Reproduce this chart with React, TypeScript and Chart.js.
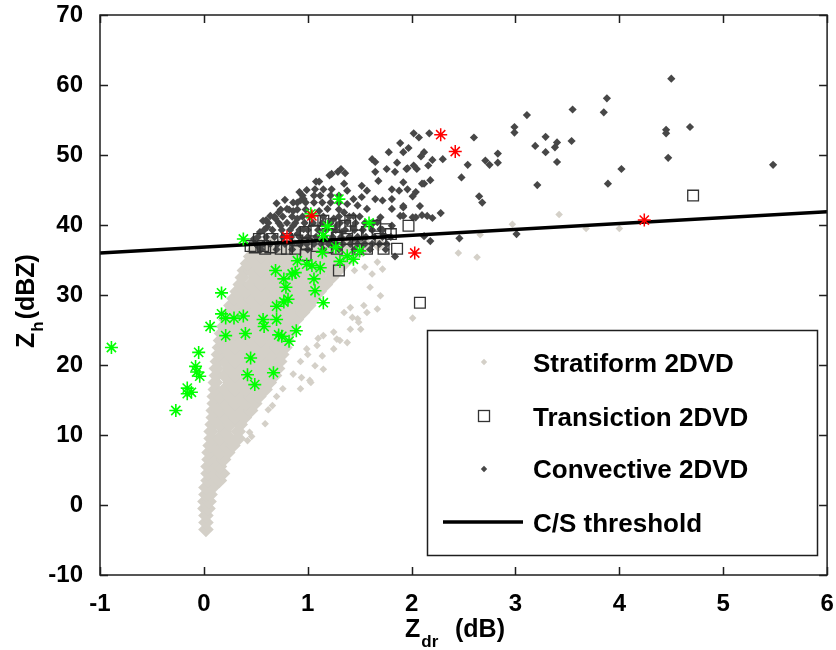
import React, { useEffect, useRef } from 'react';
import { Chart, registerables } from 'chart.js';

Chart.register(...registerables);

const FONT = "'Liberation Sans', Arial, Helvetica, sans-serif";

const xTicks = [-1, 0, 1, 2, 3, 4, 5, 6];
const yTicks = [-10, 0, 10, 20, 30, 40, 50, 60, 70];

const legendLabels = ['Stratiform 2DVD', 'Transiction 2DVD', 'Convective 2DVD', 'C/S threshold'];

// Dense stratiform cloud, read row by row (Zh level, Zdr values)
const stratiformRows: [number, number[]][] = [
  [-3.5, [0.02]],
  [-2.5, [0.02]],
  [-1.5, [0.02]],
  [-0.5, [0.01, 0.04]],
  [0.5, [0.01, 0.05]],
  [1.5, [0.02, 0.06]],
  [2.5, [0.02, 0.08]],
  [3.5, [0.04, 0.1, 0.15]],
  [4.5, [0.04, 0.1, 0.18]],
  [5.5, [0.04, 0.1, 0.15]],
  [6.5, [0.05, 0.12, 0.19]],
  [7.5, [0.05, 0.15, 0.23]],
  [8.5, [0.06, 0.1, 0.2, 0.28]],
  [9.5, [0.07, 0.15, 0.25, 0.33]],
  [10.5, [0.07, 0.2, 0.33]],
  [11.5, [0.08, 0.15, 0.25, 0.35]],
  [12.5, [0.09, 0.2, 0.3, 0.39]],
  [13.5, [0.09, 0.15, 0.25, 0.35, 0.45]],
  [14.5, [0.1, 0.2, 0.3, 0.4, 0.49]],
  [15.5, [0.1, 0.15, 0.25, 0.35, 0.45, 0.53]],
  [16.5, [0.11, 0.2, 0.3, 0.4, 0.5, 0.59]],
  [17.5, [0.11, 0.25, 0.35, 0.45, 0.55, 0.63]],
  [18.5, [0.12, 0.2, 0.3, 0.4, 0.5, 0.6, 0.68]],
  [19.5, [0.12, 0.25, 0.35, 0.45, 0.55, 0.65, 0.71]],
  [20.5, [0.13, 0.2, 0.3, 0.4, 0.5, 0.6, 0.67, 0.73]],
  [21.5, [0.14, 0.25, 0.35, 0.45, 0.55, 0.65, 0.75]],
  [22.5, [0.15, 0.2, 0.3, 0.4, 0.5, 0.6, 0.7, 0.78]],
  [23.5, [0.16, 0.25, 0.35, 0.45, 0.55, 0.65, 0.75, 0.8]],
  [24.5, [0.17, 0.3, 0.4, 0.5, 0.6, 0.7, 0.82]],
  [25.5, [0.19, 0.25, 0.35, 0.45, 0.55, 0.65, 0.75, 0.85]],
  [26.5, [0.21, 0.3, 0.4, 0.5, 0.6, 0.7, 0.8, 0.89]],
  [27.5, [0.24, 0.35, 0.45, 0.55, 0.65, 0.75, 0.85, 0.95]],
  [28.5, [0.26, 0.3, 0.4, 0.5, 0.6, 0.7, 0.8, 0.9, 1.01]],
  [29.5, [0.29, 0.35, 0.45, 0.55, 0.65, 0.75, 0.85, 0.95, 1.06]],
  [30.5, [0.32, 0.4, 0.5, 0.6, 0.7, 0.8, 0.9, 1.0, 1.11]],
  [31.5, [0.35, 0.45, 0.55, 0.65, 0.75, 0.85, 0.95, 1.05, 1.17]],
  [32.5, [0.37, 0.5, 0.6, 0.7, 0.8, 0.9, 1.0, 1.1, 1.23]],
  [33.5, [0.39, 0.45, 0.55, 0.65, 0.75, 0.85, 0.95, 1.05, 1.15, 1.22, 1.29]],
  [34.5, [0.42, 0.5, 0.6, 0.7, 0.8, 0.9, 1.0, 1.1, 1.2, 1.3, 1.35]],
  [35.5, [0.45, 0.55, 0.65, 0.75, 0.85, 0.95, 1.05, 1.15, 1.25, 1.35, 1.43]],
  [36.5, [0.49, 0.6, 0.7, 0.8, 0.9, 1.0, 1.1, 1.2, 1.3, 1.4, 1.53]],
  [37.3, [0.53, 0.65, 0.75, 0.85, 0.95, 1.05, 1.15, 1.25, 1.35, 1.45, 1.55, 1.68]],
];

// Scattered stratiform points outside the dense cloud
const stratiformSparse: [number, number][] = [
  [0.42, 9.2], [0.46, 9.8], [0.44, 10.4], [0.59, 11.6], [0.66, 14.2], [0.62, 13.6],
  [0.7, 15.5], [0.76, 16.6], [0.86, 18.7], [0.94, 18.2], [1.02, 17.8], [1.07, 19.9],
  [1.15, 19.4], [1.14, 21.3], [0.93, 20.5], [1.0, 21.5], [1.25, 22.3], [1.31, 23.5],
  [1.38, 23.2], [1.25, 24.7], [1.1, 23.8], [1.43, 26.8], [1.49, 26.1], [1.51, 25.1],
  [1.57, 27.5], [1.67, 28.0], [1.35, 27.5], [1.72, 33.7], [1.7, 29.9], [1.67, 34.7],
  [1.6, 31.1], [1.54, 28.5], [1.41, 28.2], [1.48, 26.6], [1.41, 25.1], [1.28, 23.7],
  [1.15, 24.2], [1.09, 22.8], [0.99, 22.3], [1.03, 17.5], [0.93, 16.6], [1.45, 33.5],
  [1.55, 34.0], [1.62, 33.0], [2.01, 26.7], [2.45, 36.0], [2.63, 35.4], [2.66, 38.6],
  [2.97, 40.1], [3.42, 41.5], [3.68, 39.5], [4.0, 39.5],
];

// Dense convective band just above the threshold (rows)
const convectiveRows: [number, number[]][] = [
  [36.5, [0.55, 0.7, 0.85, 1.0, 1.15, 1.3, 1.45, 1.6, 1.75]],
  [37.3, [0.5, 0.57, 0.64, 0.71, 0.78, 0.85, 0.92, 0.99, 1.06, 1.13, 1.2, 1.27, 1.34, 1.41, 1.48, 1.55, 1.62, 1.69, 1.76]],
  [38.3, [0.52, 0.6, 0.68, 0.76, 0.84, 0.92, 1.0, 1.08, 1.16, 1.24, 1.32, 1.4, 1.48, 1.56, 1.64, 1.72, 1.8]],
  [39.3, [0.58, 0.66, 0.75, 0.83, 0.92, 1.0, 1.1, 1.18, 1.27, 1.36, 1.45, 1.53, 1.62, 1.72]],
  [40.3, [0.62, 0.72, 0.8, 0.88, 0.97, 1.05, 1.14, 1.22, 1.31, 1.46, 1.55, 1.63]],
  [41.2, [0.68, 0.76, 0.85, 0.95, 1.02, 1.15, 1.3, 1.4, 1.5]],
  [42.2, [0.74, 0.82, 0.9, 0.98, 1.3]],
  [43.2, [0.9, 0.98, 1.06, 1.14, 1.22, 1.3]],
  [44.2, [0.95, 1.12, 1.22, 1.3]],
];

const convectiveScatter: [number, number][] = [
  [2.02, 53.1], [2.07, 52.5], [2.17, 53.1], [1.89, 51.7], [1.97, 51.0], [1.78, 50.4],
  [1.92, 50.4], [2.12, 50.4], [1.62, 49.4], [1.65, 49.0], [1.86, 48.9], [1.96, 48.1],
  [2.05, 48.0], [1.65, 47.6], [1.76, 48.0], [1.84, 47.6], [1.32, 48.0], [1.36, 47.4],
  [1.23, 47.3], [1.29, 47.6], [1.68, 46.3], [1.92, 46.1], [1.11, 46.2], [2.12, 45.9],
  [1.35, 45.9], [0.99, 45.0], [1.07, 45.1], [1.15, 45.1], [1.23, 45.1], [1.38, 44.9],
  [1.52, 45.6], [1.57, 44.9], [1.81, 45.1], [1.88, 44.9], [1.96, 45.1], [2.04, 44.7],
  [0.96, 43.7], [1.06, 44.2], [1.44, 43.7], [1.52, 44.0], [1.65, 43.7], [1.72, 43.5],
  [1.81, 43.7], [0.86, 43.2], [0.93, 43.5], [1.38, 43.0], [1.48, 42.8], [1.57, 42.3],
  [1.81, 42.3], [1.92, 42.5], [2.08, 42.7], [0.8, 42.3], [0.72, 41.8], [0.64, 41.3],
  [0.86, 42.0], [1.11, 42.0], [1.19, 42.3], [1.35, 41.8], [1.44, 41.3], [1.7, 41.1],
  [1.89, 41.3], [2.01, 41.1], [2.15, 41.3], [0.57, 40.6], [0.69, 40.9], [0.9, 40.9],
  [1.25, 40.9], [1.38, 40.4], [1.67, 40.4], [1.81, 39.9], [0.61, 39.7], [0.74, 39.9],
  [0.86, 39.9], [0.96, 39.4], [1.28, 39.9], [1.44, 39.7], [1.7, 39.4], [0.54, 39.0],
  [0.9, 38.7], [1.33, 39.0], [2.09, 49.8], [2.2, 49.3], [2.3, 49.4], [2.6, 52.5],
  [2.54, 48.6], [2.48, 46.8], [2.18, 46.4], [2.1, 45.9], [1.95, 48.0], [2.02, 48.5],
  [2.16, 48.5], [2.01, 44.1], [2.1, 41.4], [2.2, 41.0], [2.28, 41.7], [1.92, 42.7],
  [1.92, 41.3], [2.04, 41.1], [2.12, 38.4], [2.18, 37.7], [2.46, 38.1], [2.65, 44.1],
  [2.68, 43.2], [2.71, 49.2], [2.75, 48.6], [2.83, 48.9], [2.83, 50.2], [2.99, 54.0],
  [2.99, 53.2], [3.11, 55.7], [3.19, 51.3], [3.29, 52.6], [3.29, 50.4], [3.38, 51.1],
  [3.4, 51.8], [3.4, 49.0], [3.21, 45.7], [3.01, 38.7], [3.55, 56.5], [3.54, 52.0],
  [3.85, 56.1], [3.88, 58.1], [3.89, 45.9], [4.02, 48.0], [4.45, 53.6], [4.45, 53.1],
  [4.5, 60.9], [4.68, 54.0], [4.47, 49.6], [5.48, 48.6], [1.84, 35.5], [0.6, 40.7],
  [0.7, 43.1], [0.78, 43.6], [0.92, 44.7], [1.08, 46.2], [1.21, 47.1], [0.48, 38.0],
  [0.52, 37.0],
];

const transition: [number, number][] = [
  [0.53, 38.0], [0.49, 36.8], [0.59, 36.6], [0.66, 38.0], [0.74, 36.6], [0.8, 36.6],
  [0.88, 36.6], [0.98, 35.7], [1.07, 40.6], [1.15, 40.6], [1.22, 40.1], [1.36, 39.9],
  [1.41, 40.6], [1.3, 33.5], [1.65, 39.9], [1.75, 39.4], [1.86, 36.6], [1.97, 39.9],
  [1.57, 36.6], [1.48, 36.6], [1.28, 36.6], [1.19, 36.8], [1.09, 37.0], [0.99, 37.3],
  [1.73, 36.6], [1.8, 38.7], [1.7, 38.0], [1.57, 39.0], [1.48, 38.5], [1.38, 38.0],
  [1.28, 38.2], [1.19, 38.7], [0.9, 37.8], [0.8, 38.0], [0.64, 36.8], [0.57, 37.0],
  [0.98, 39.0], [1.06, 39.2], [0.45, 37.0], [4.71, 44.2], [2.08, 28.9],
];

const greenStars: [number, number][] = [
  [-0.89, 22.5], [-0.27, 13.5], [-0.16, 16.7], [-0.16, 15.9], [-0.12, 16.1], [-0.05, 21.8],
  [-0.08, 19.8], [-0.07, 19.0], [-0.04, 18.4], [0.06, 25.5], [0.17, 27.3], [0.21, 26.7],
  [0.29, 26.7], [0.38, 27.0], [0.21, 24.2], [0.4, 24.5], [0.45, 21.0], [0.42, 18.6],
  [0.49, 17.2], [0.57, 26.5], [0.58, 25.5], [0.7, 26.5], [0.7, 28.4], [0.77, 29.0],
  [0.81, 29.4], [0.72, 24.3], [0.75, 24.1], [0.82, 23.4], [0.89, 24.9], [0.67, 18.9],
  [1.15, 28.9], [0.17, 30.3], [0.38, 38.0], [0.69, 33.5], [0.77, 32.3], [0.79, 31.1],
  [0.85, 33.0], [0.88, 33.2], [0.9, 34.9], [0.99, 34.4], [1.04, 34.2], [1.06, 32.3],
  [1.07, 30.6], [1.12, 33.9], [1.14, 36.1], [1.15, 38.5], [1.19, 39.8], [1.03, 41.6],
  [1.3, 43.7], [1.27, 36.8], [1.31, 34.8], [1.38, 35.6], [1.44, 35.1], [1.5, 36.3],
  [1.59, 40.3],
];

const redStars: [number, number][] = [
  [0.8, 38.3], [1.04, 41.3], [2.03, 36.0], [2.28, 52.9], [2.42, 50.5], [4.24, 40.7],
];

const thresholdLine: [number, number][] = [[-1, 36.0], [6, 41.9]];

const toPts = (arr: [number, number][]) => arr.map(([x, y]) => ({ x, y }));
const rowsToPts = (rows: [number, number[]][]) =>
  rows.flatMap(([y, xs]) => xs.map((x) => ({ x, y })));

const STRAT = '#d4d0c8';
const CONV = '#474747';
const SQUARE = '#333333';

function diamond(ctx: CanvasRenderingContext2D, x: number, y: number, r: number, color: string) {
  ctx.beginPath();
  ctx.moveTo(x - r, y);
  ctx.lineTo(x, y - r);
  ctx.lineTo(x + r, y);
  ctx.lineTo(x, y + r);
  ctx.closePath();
  ctx.fillStyle = color;
  ctx.fill();
}

const framePlugin = {
  id: 'frame',
  afterDraw(chart: any) {
    const { ctx, chartArea: a, scales } = chart;
    ctx.save();
    ctx.strokeStyle = '#1e1e1e';
    ctx.lineWidth = 1.5;
    ctx.strokeRect(a.left, a.top, a.right - a.left, a.bottom - a.top);
    const tl = 8;
    ctx.beginPath();
    xTicks.forEach((v) => {
      const px = Math.round(scales.x.getPixelForValue(v)) + 0.5;
      ctx.moveTo(px, a.bottom);
      ctx.lineTo(px, a.bottom - tl);
      ctx.moveTo(px, a.top);
      ctx.lineTo(px, a.top + tl);
    });
    yTicks.forEach((v) => {
      const py = Math.round(scales.y.getPixelForValue(v)) + 0.5;
      ctx.moveTo(a.left, py);
      ctx.lineTo(a.left + tl, py);
      ctx.moveTo(a.right, py);
      ctx.lineTo(a.right - tl, py);
    });
    ctx.stroke();

    ctx.fillStyle = '#000';
    ctx.textBaseline = 'alphabetic';
    ctx.textAlign = 'left';
    const big = `bold 25px ${FONT}`;
    const sub = `bold 17px ${FONT}`;
    ctx.font = big;
    ctx.fillText('Z', 405, 637);
    const wz = ctx.measureText('Z').width;
    ctx.font = sub;
    ctx.fillText('dr', 405 + wz + 1, 647);
    ctx.font = big;
    ctx.fillText('(dB)', 455, 637);
    ctx.save();
    ctx.translate(34, 348);
    ctx.rotate(-Math.PI / 2);
    ctx.font = big;
    ctx.fillText('Z', 0, 0);
    ctx.font = sub;
    ctx.fillText('h', wz + 1, 9);
    const wh = ctx.measureText('h').width;
    ctx.font = big;
    ctx.fillText('(dBZ)', wz + wh + 3, 0);
    ctx.restore();

    const lx = 427.5, ly = 330.5, lw = 390, lh = 225;
    ctx.fillStyle = '#fff';
    ctx.fillRect(lx, ly, lw, lh);
    ctx.strokeStyle = '#1e1e1e';
    ctx.lineWidth = 1.5;
    ctx.strokeRect(lx, ly, lw, lh);
    const mx = 484;
    diamond(ctx, mx, 362, 3.2, STRAT);
    ctx.strokeStyle = SQUARE;
    ctx.lineWidth = 1.3;
    ctx.strokeRect(mx - 5.5, 416 - 5.5, 11, 11);
    diamond(ctx, mx, 469, 3.2, CONV);
    ctx.strokeStyle = '#000';
    ctx.lineWidth = 3.5;
    ctx.beginPath();
    ctx.moveTo(443, 522);
    ctx.lineTo(523, 522);
    ctx.stroke();
    ctx.fillStyle = '#000';
    ctx.font = `bold 26px ${FONT}`;
    const baselines = [372, 426, 478, 532];
    legendLabels.forEach((t, i) => ctx.fillText(t, 533, baselines[i]));
    ctx.restore();
  },
};

export default function App() {
  const ref = useRef<HTMLCanvasElement | null>(null);
  useEffect(() => {
    if (!ref.current) return;
    const tickFont = { family: FONT, size: 24, weight: 'bold' as const };
    const chart = new Chart(ref.current, {
      type: 'scatter',
      data: {
        datasets: [
          {
            label: 'Stratiform 2DVD',
            data: rowsToPts(stratiformRows),
            pointStyle: 'rectRot',
            pointRadius: 7.8,
            backgroundColor: STRAT,
            borderWidth: 0,
            order: 10,
          },
          {
            label: 'Stratiform 2DVD (sparse)',
            data: toPts(stratiformSparse),
            pointStyle: 'rectRot',
            pointRadius: 3.8,
            backgroundColor: STRAT,
            borderWidth: 0,
            order: 9,
          },
          {
            label: 'Convective 2DVD',
            data: [...rowsToPts(convectiveRows), ...toPts(convectiveScatter)],
            pointStyle: 'rectRot',
            pointRadius: 4.1,
            backgroundColor: CONV,
            borderWidth: 0,
            order: 8,
          },
          {
            label: 'Transiction 2DVD',
            data: toPts(transition),
            pointStyle: 'rect',
            pointRadius: 7.6,
            backgroundColor: 'rgba(0,0,0,0)',
            borderColor: SQUARE,
            borderWidth: 1.3,
            order: 7,
          },
          {
            type: 'line',
            label: 'C/S threshold',
            data: toPts(thresholdLine),
            borderColor: '#000',
            borderWidth: 3.5,
            pointRadius: 0,
            fill: false,
            order: 6,
          } as any,
          {
            label: 'green',
            data: toPts(greenStars),
            pointStyle: 'star',
            pointRadius: 6.5,
            borderColor: '#00ff00',
            backgroundColor: '#00ff00',
            borderWidth: 1.6,
            order: 5,
          },
          {
            label: 'red',
            data: toPts(redStars),
            pointStyle: 'star',
            pointRadius: 6.5,
            borderColor: '#ff0000',
            backgroundColor: '#ff0000',
            borderWidth: 1.5,
            order: 4,
          },
        ],
      },
      options: {
        animation: false,
        responsive: false,
        events: [],
        layout: { padding: { top: 15, right: 8, left: 0, bottom: 0 } },
        plugins: { legend: { display: false }, tooltip: { enabled: false } },
        scales: {
          x: {
            type: 'linear',
            min: -1,
            max: 6,
            ticks: { stepSize: 1, font: tickFont, color: '#000', padding: 7 },
            grid: { display: false },
            border: { display: false },
            afterFit: (s: any) => {
              s.height = 75;
              s.paddingLeft = 0;
              s.paddingRight = 0;
            },
          },
          y: {
            type: 'linear',
            min: -10,
            max: 70,
            ticks: { stepSize: 10, font: tickFont, color: '#000', padding: 9 },
            grid: { display: false },
            border: { display: false },
            afterFit: (s: any) => {
              s.width = 100;
              s.paddingTop = 0;
              s.paddingBottom = 0;
            },
          },
        },
      },
      plugins: [framePlugin],
    });
    return () => chart.destroy();
  }, []);
  return (
    <div style={{ position: 'absolute', left: 0, top: 0, width: 836, height: 650, background: '#fff' }}>
      <canvas ref={ref} width={836} height={650} style={{ display: 'block' }} />
    </div>
  );
}
